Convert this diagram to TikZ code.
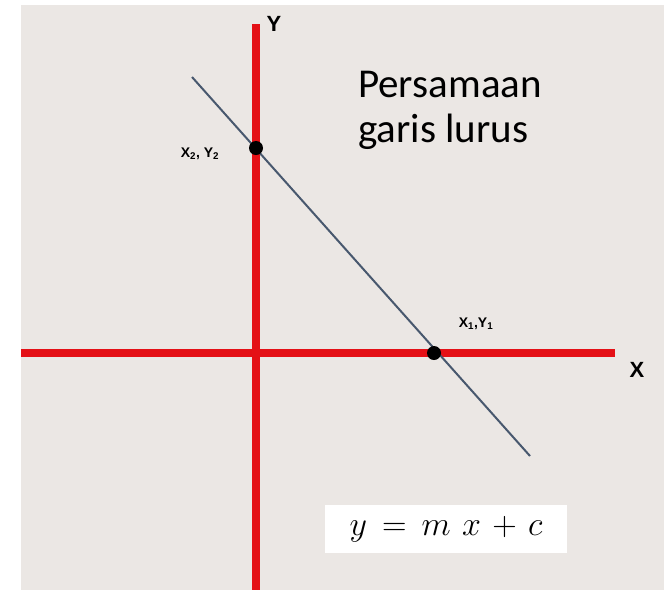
\RequirePackage{fix-cm}
\documentclass[tikz,border=0pt]{standalone}
\usepackage{fontspec}
\setmainfont{Carlito}
\newfontfamily\lblfont{Liberation Sans}
\usepackage{tikz}
\usepackage{xcolor}
\usetikzlibrary{positioning}
\usetikzlibrary{calc}

\definecolor{bgGray}{RGB}{235,231,228}
\definecolor{axisRed}{RGB}{228,16,22}
\definecolor{lineBlue}{RGB}{72,88,110}

\begin{document}
\begin{tikzpicture}[
    x=1pt, y=-1pt,
    axis/.style={draw=axisRed, line width=7.5pt},
    graph/.style={draw=lineBlue, line width=2pt},
    pt/.style={circle, fill=black, inner sep=0pt, minimum size=14pt},
    axlbl/.style={font=\lblfont\bfseries\fontsize{22}{22}\selectfont, inner sep=0pt},
    ptlbl/.style={font=\lblfont\bfseries\fontsize{14}{14}\selectfont, inner sep=0pt},
    title/.style={font=\fontsize{41}{45}\selectfont, align=left, inner sep=0pt},
    eqbox/.style={fill=white, minimum width=242pt, minimum height=48pt, inner sep=0pt}
]

\useasboundingbox (0,0) rectangle (664,590);
\fill[bgGray] (21,5) rectangle (664,590);

% axes
\coordinate (ytop) at (256,24);
\coordinate (ybot) at (256,590);
\coordinate (xleft) at (21,353);
\coordinate (xright) at (615,353);
\draw[axis] (ytop) -- (ybot);
\draw[axis] (xleft) -- (xright);

\node[axlbl] (ylbl) at (274,24) {Y};
\node[axlbl] (xlbl) at (637,370) {X};

% straight line
\coordinate (ltop) at (192,77);
\coordinate (lbot) at (530,456);
\draw[graph] (ltop) -- (lbot);

\node[pt] (p2) at (256,148) {};
\node[pt] (p1) at (434,353) {};
\node[ptlbl] (p2lbl) at (200,154) {X\textsubscript{2}, Y\textsubscript{2}};
\node[ptlbl] (p1lbl) at (476,324) {X\textsubscript{1},Y\textsubscript{1}};

\node[title, anchor=base west] (title) at (358,142) {Persamaan\\garis lurus};

\node[eqbox] (eq) at (446,529) {\fontsize{34}{34}\selectfont\thickmuskip=8mu\medmuskip=6mu $y = m\:x + c$};

\end{tikzpicture}
\end{document}
